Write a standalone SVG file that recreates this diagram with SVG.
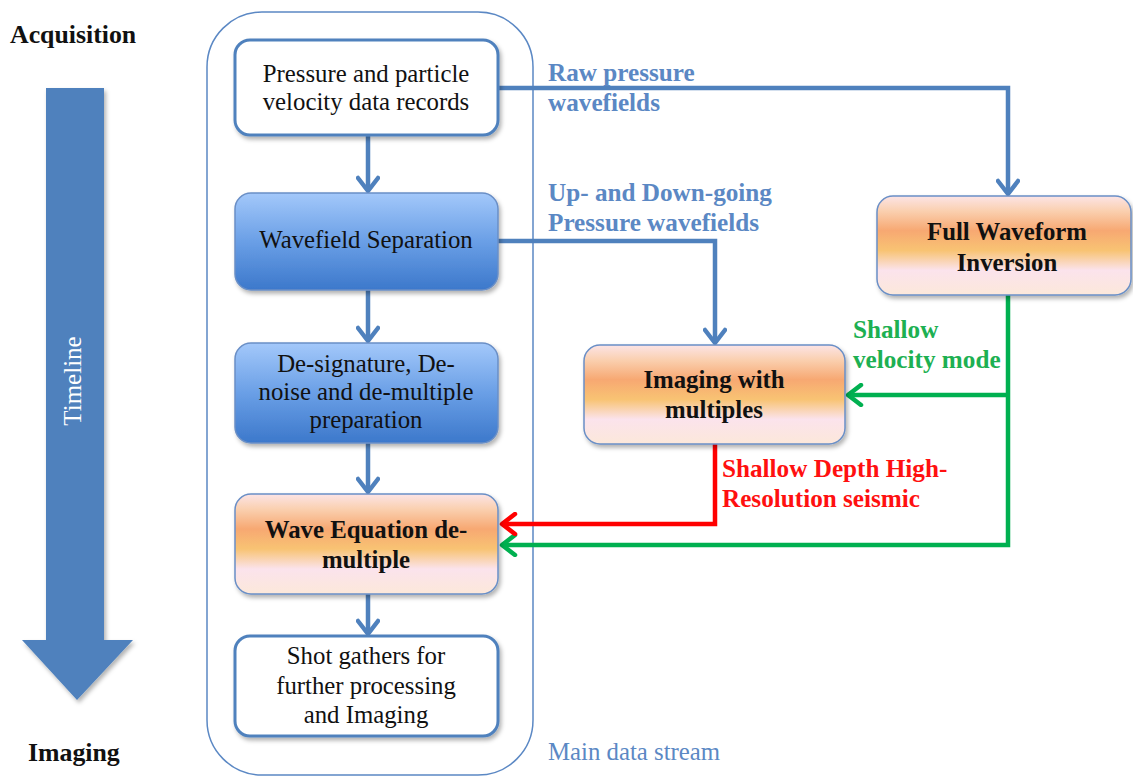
<svg xmlns="http://www.w3.org/2000/svg" width="1133" height="779" viewBox="0 0 1133 779">
<style>
.t{font-family:"Liberation Serif","Times New Roman",serif;font-size:24.8px;fill:#111;text-anchor:middle}
.b{font-weight:bold}
.lbl{font-family:"Liberation Serif","Times New Roman",serif;font-size:25.2px;font-weight:bold}
.hd{font-family:"Liberation Serif","Times New Roman",serif;font-size:25.8px;font-weight:bold;fill:#111}
.blue{fill:#5B88C4}
.green{fill:#1DB052}
.red{fill:#FF1010}
.wbox{fill:#fff;stroke:#4F81BD;stroke-width:3}
.gbox{stroke:#6A8FC6;stroke-width:1.5}
.cb{fill:none;stroke:#4F81BD;stroke-width:4.5}
.cg{fill:none;stroke:#00B050;stroke-width:4.5}
.cr{fill:none;stroke:#FF0000;stroke-width:4.5}
</style>
<defs>
<linearGradient id="gBlue" x1="0" y1="0" x2="0" y2="1">
<stop offset="0" stop-color="#A3C8FA"/>
<stop offset="0.5" stop-color="#6A9FE6"/>
<stop offset="1" stop-color="#3C78CB"/>
</linearGradient>
<linearGradient id="gOrange" x1="0" y1="0" x2="0" y2="1">
<stop offset="0" stop-color="#FCE4E6"/>
<stop offset="0.15" stop-color="#FAD0B0"/>
<stop offset="0.35" stop-color="#F7A872"/>
<stop offset="0.55" stop-color="#F8C373"/>
<stop offset="0.75" stop-color="#FBE3EC"/>
<stop offset="1" stop-color="#FCE8DA"/>
</linearGradient>
<filter id="sh" x="-10%" y="-10%" width="125%" height="130%">
<feDropShadow dx="2" dy="3" stdDeviation="2" flood-color="#000" flood-opacity="0.3"/>
</filter>
<marker id="aB" viewBox="0 0 20 24" refX="17" refY="12" markerWidth="20" markerHeight="24" markerUnits="userSpaceOnUse" orient="auto">
<path d="M4,2 L17,12 L4,22" fill="none" stroke="#4F81BD" stroke-width="4.5" stroke-linecap="round" stroke-linejoin="round"/>
</marker>
<marker id="aG" viewBox="0 0 20 24" refX="17" refY="12" markerWidth="20" markerHeight="24" markerUnits="userSpaceOnUse" orient="auto">
<path d="M4,2 L17,12 L4,22" fill="none" stroke="#00B050" stroke-width="4.5" stroke-linecap="round" stroke-linejoin="round"/>
</marker>
<marker id="aR" viewBox="0 0 20 24" refX="17" refY="12" markerWidth="20" markerHeight="24" markerUnits="userSpaceOnUse" orient="auto">
<path d="M4,2 L17,12 L4,22" fill="none" stroke="#FF0000" stroke-width="4.5" stroke-linecap="round" stroke-linejoin="round"/>
</marker>
</defs>

<g id="timeline">
<polygon points="46,88 104,88 104,640 133,640 77,700 22,640 46,640" fill="#4F81BD" filter="url(#sh)"/>
<text x="75" y="381" transform="rotate(-90 75 381)" font-family="Liberation Serif, serif" font-size="25" fill="#fff" text-anchor="middle" dominant-baseline="middle">Timeline</text>
</g>
<text id="acq" class="hd" x="10" y="43">Acquisition</text>
<text id="img" class="hd" x="28" y="761">Imaging</text>

<g id="mainstream">
<rect x="207" y="12" width="326" height="763" rx="55" fill="none" stroke="#5B88C4" stroke-width="1.5"/>
<text x="548" y="760" font-family="Liberation Serif, serif" font-size="24.8" fill="#5B88C4">Main data stream</text>
</g>

<g id="connectors">
<line class="cb" x1="368" y1="135" x2="368" y2="191" marker-end="url(#aB)"/>
<line class="cb" x1="368" y1="290" x2="368" y2="341" marker-end="url(#aB)"/>
<line class="cb" x1="368" y1="443" x2="368" y2="492" marker-end="url(#aB)"/>
<line class="cb" x1="368" y1="594" x2="368" y2="634" marker-end="url(#aB)"/>
<polyline class="cb" points="498,88 1008,88 1008,194" marker-end="url(#aB)"/>
<polyline class="cb" points="498,241 715,241 715,343" marker-end="url(#aB)"/>
<polyline class="cg" points="1008,295 1008,545 502,545" marker-end="url(#aG)"/>
<line class="cg" x1="1008" y1="395" x2="848" y2="395" marker-end="url(#aG)"/>
<polyline class="cr" points="715,444 715,524 502,524" marker-end="url(#aR)"/>
</g>

<g id="n1">
<rect class="wbox" x="235" y="40" width="263" height="95" rx="15" filter="url(#sh)"/>
<text class="t" x="366" y="82">Pressure and particle</text>
<text class="t" x="366" y="110">velocity  data records</text>
</g>
<g id="n2">
<rect class="gbox" x="235" y="193" width="263" height="97" rx="16" fill="url(#gBlue)" filter="url(#sh)"/>
<text class="t" x="366" y="248">Wavefield Separation</text>
</g>
<g id="n3">
<rect class="gbox" x="235" y="343" width="263" height="100" rx="16" fill="url(#gBlue)" filter="url(#sh)"/>
<text class="t" x="366" y="372">De-signature, De-</text>
<text class="t" x="366" y="400">noise and de-multiple</text>
<text class="t" x="366" y="428">preparation</text>
</g>
<g id="n4">
<rect class="gbox" x="235" y="494" width="263" height="100" rx="16" fill="url(#gOrange)" filter="url(#sh)"/>
<text class="t b" x="366" y="538">Wave Equation de-</text>
<text class="t b" x="366" y="568">multiple</text>
</g>
<g id="n5">
<rect class="wbox" x="235" y="636" width="263" height="100" rx="15" filter="url(#sh)"/>
<text class="t" x="366" y="664">Shot gathers for</text>
<text class="t" x="366" y="694">further processing</text>
<text class="t" x="366" y="723">and Imaging</text>
</g>
<g id="n6">
<rect class="gbox" x="877" y="196" width="254" height="99" rx="16" fill="url(#gOrange)" filter="url(#sh)"/>
<text class="t b" x="1007" y="240">Full Waveform</text>
<text class="t b" x="1007" y="271">Inversion</text>
</g>
<g id="n7">
<rect class="gbox" x="584" y="345" width="261" height="99" rx="16" fill="url(#gOrange)" filter="url(#sh)"/>
<text class="t b" x="714" y="388">Imaging with</text>
<text class="t b" x="714" y="418">multiples</text>
</g>

<g id="labels">
<text class="lbl blue" x="548" y="81">Raw pressure</text>
<text class="lbl blue" x="548" y="111">wavefields</text>
<text class="lbl blue" x="548" y="201">Up- and  Down-going</text>
<text class="lbl blue" x="548" y="231">Pressure wavefields</text>
<text class="lbl green" x="853" y="338">Shallow</text>
<text class="lbl green" x="853" y="368">velocity mode</text>
<text class="lbl red" x="722" y="477">Shallow Depth High-</text>
<text class="lbl red" x="722" y="507">Resolution seismic</text>
</g>
</svg>
